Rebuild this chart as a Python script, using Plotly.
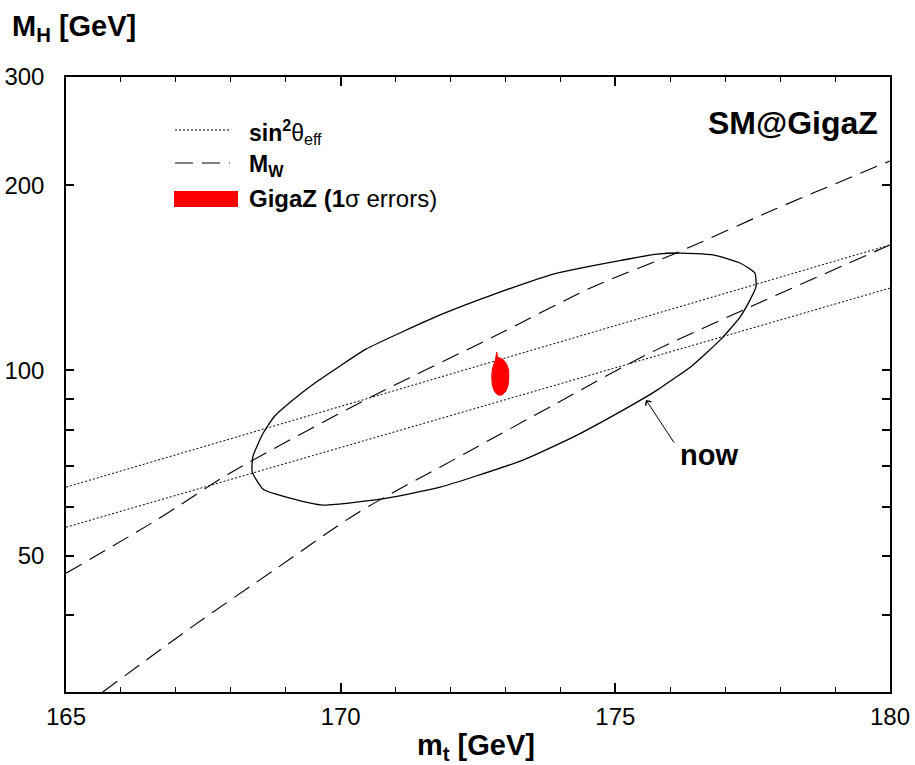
import math
import plotly.graph_objects as go

# ---------------- data ----------------
# sin^2 theta_eff band (dotted)
sin_upper_mt = [165.0, 172.5, 180.0]
sin_upper_mh = [64.6, 101.7, 160.0]
sin_lower_mt = [165.0, 172.5, 180.0]
sin_lower_mh = [55.6, 87.1, 136.1]

# M_W band (dashed)
mw_upper_mt = [165.0, 166.66, 167.99, 170.55, 172.77, 174.59, 176.11, 177.87, 180.0]
mw_upper_mh = [46.8, 57.2, 68.1, 90.5, 113.3, 136.7, 155.2, 182.3, 219.1]
mw_lower_mt = [165.67, 167.26, 168.84, 170.30, 172.28, 173.94, 175.56, 177.45, 180.0]
mw_lower_mh = [30.0, 38.1, 47.7, 58.6, 73.4, 88.5, 106.0, 126.8, 160.0]

# present-day contour ("now", solid)
now_mt = [168.40, 168.59, 168.80, 169.13, 169.53, 169.99, 170.46, 171.81, 172.85,
          173.94, 175.14, 175.76, 176.18, 176.78, 177.27, 177.54, 177.56, 177.45,
          177.27, 176.91, 176.41, 175.76, 175.14, 174.23, 173.32, 172.41, 171.81,
          170.84, 169.68, 169.08, 168.59, 168.39, 168.40]
now_mh = [72.3, 79.1, 84.3, 89.5, 95.4, 101.7, 108.3, 123.1, 133.6,
          144.0, 151.2, 154.6, 155.2, 154.1, 149.5, 144.0, 136.7, 130.1,
          122.1, 112.1, 102.0, 92.9, 86.2, 77.9, 71.5, 67.1, 64.6,
          62.0, 60.4, 62.0, 64.1, 68.4, 72.3]

# GigaZ 1 sigma region (red)
gigaz_mt = [172.84, 172.86, 172.89, 172.96, 173.02, 173.06, 173.06, 173.05, 173.01,
            172.94, 172.86, 172.80, 172.76, 172.75, 172.76, 172.79, 172.82, 172.84]
gigaz_mh = [107.1, 104.9, 104.9, 104.1, 102.4, 100.1, 97.5, 94.7, 92.6,
            91.2, 91.2, 92.4, 94.7, 97.5, 100.5, 102.8, 104.3, 107.1]

x_ticks = [165, 170, 175, 180]
y_tickvals = [50, 100, 200, 300]
y_ticktext = ["50", "100", "200", "300"]
y_minor_ticks = [40, 60, 70, 80, 90]

# ---------------- figure ----------------
FONT = "Liberation Sans, Arial, Helvetica, sans-serif"
DOT = "2px,2px"
DASH = "18px,9px"

fig = go.Figure()

for xs, ys in [(sin_upper_mt, sin_upper_mh), (sin_lower_mt, sin_lower_mh)]:
    fig.add_trace(go.Scatter(x=xs, y=ys, mode="lines",
                             line=dict(color="black", width=1, dash=DOT),
                             hoverinfo="skip"))
for xs, ys in [(mw_upper_mt, mw_upper_mh), (mw_lower_mt, mw_lower_mh)]:
    fig.add_trace(go.Scatter(x=xs, y=ys, mode="lines",
                             line=dict(color="black", width=1.1, dash=DASH,
                                       shape="spline", smoothing=0.8),
                             hoverinfo="skip"))

fig.add_trace(go.Scatter(x=now_mt, y=now_mh, mode="lines",
                         line=dict(color="black", width=1.3, shape="spline",
                                   smoothing=0.5),
                         hoverinfo="skip"))

fig.add_trace(go.Scatter(x=gigaz_mt, y=gigaz_mh, mode="lines", fill="toself",
                         fillcolor="#ff0000",
                         line=dict(color="#ff0000", width=1),
                         hoverinfo="skip"))

L, R, T, B = 66, 25, 77, 73
W, H = 915, 765
PW, PH = W - L - R, H - T - B


def px(xp):
    return (xp - L) / PW


def py(yp):
    return (H - B - yp) / PH


fig.update_layout(
    width=W, height=H,
    margin=dict(l=L, r=R, t=T, b=B, autoexpand=False),
    plot_bgcolor="white", paper_bgcolor="white",
    showlegend=False,
    font=dict(family=FONT, color="black"),
    xaxis=dict(range=[165, 180], tickvals=x_ticks, ticks="inside", ticklen=9,
               tickwidth=1.5, tickcolor="black", showline=True, linecolor="black",
               linewidth=1.5, mirror="ticks", showgrid=False, zeroline=False,
               tickfont=dict(size=24, family=FONT, color="black"),
               ticklabelstandoff=2,
               minor=dict(dtick=1, tick0=165, ticks="inside", ticklen=5,
                          tickwidth=1, tickcolor="black", showgrid=False)),
    yaxis=dict(type="log", range=[math.log10(30), math.log10(300)],
               tickvals=y_tickvals, ticktext=y_ticktext, ticks="inside",
               ticklen=8, tickwidth=1.5, tickcolor="black", showline=True,
               linecolor="black", linewidth=1.5, mirror="ticks", showgrid=False,
               zeroline=False, ticklabelstandoff=15,
               tickfont=dict(size=24, family=FONT, color="black"),
               minor=dict(tickvals=y_minor_ticks, ticks="inside", ticklen=8,
                          tickwidth=1.5, tickcolor="black", showgrid=False)),
)

annotations = [
    dict(text="<b>M<sub>H</sub> [GeV]</b>", x=px(10), y=py(28), xanchor="left",
         yanchor="middle", font=dict(size=29)),
    dict(text="<b>m<sub>t</sub> [GeV]</b>", x=px(476), y=py(747), xanchor="center",
         yanchor="middle", font=dict(size=29)),
    dict(text="<b>SM@GigaZ</b>", x=px(880), y=py(123), xanchor="right",
         yanchor="middle", font=dict(size=32)),
    dict(text="<b>now</b>", x=px(709), y=py(455), xanchor="center",
         yanchor="middle", font=dict(size=29)),
    dict(text="", x=px(646), y=py(400), ax=29, ay=44, showarrow=True,
         arrowhead=4, arrowsize=1.3, arrowwidth=1, arrowcolor="black"),
    dict(text="<b>sin</b><sup><b>2</b></sup>θ<sub>eff</sub>", x=px(247), y=py(132),
         xanchor="left", yanchor="middle", font=dict(size=23)),
    dict(text="<b>M<sub>W</sub></b>", x=px(247), y=py(165), xanchor="left",
         yanchor="middle", font=dict(size=23)),
    dict(text="<b>GigaZ (1</b>σ errors)", x=px(247), y=py(198), xanchor="left",
         yanchor="middle", font=dict(size=24)),
]
for a in annotations:
    a.setdefault("xref", "paper")
    a.setdefault("yref", "paper")
    a.setdefault("showarrow", False)
    fig.add_annotation(**a)

shapes = [
    dict(type="line", x0=px(175), x1=px(230), y0=py(130), y1=py(130),
         line=dict(color="black", width=1, dash=DOT)),
    dict(type="line", x0=px(175), x1=px(230), y0=py(163), y1=py(163),
         line=dict(color="black", width=1.1, dash=DASH)),
    dict(type="rect", x0=px(174), x1=px(238), y0=py(207), y1=py(191),
         fillcolor="#ff0000", line=dict(width=0)),
]
for s in shapes:
    s["xref"] = "paper"
    s["yref"] = "paper"
    fig.add_shape(**s)

fig.write_html(
    "out.html",
    config={"displayModeBar": False},
    post_script="document.body.style.margin='0';document.body.style.overflow='hidden';",
)
